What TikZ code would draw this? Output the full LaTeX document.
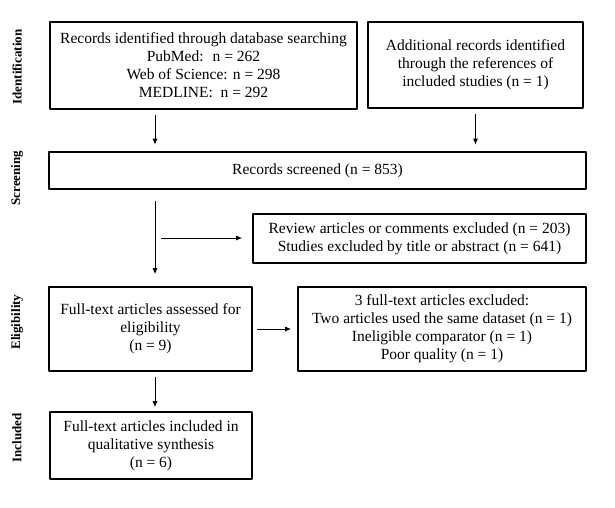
\documentclass[tikz,border=0pt]{standalone}
\usepackage{fontspec}
\setmainfont{Liberation Serif}
\usetikzlibrary{arrows.meta}
\tikzset{
  box/.style={draw=black,line width=1.6pt,inner sep=0pt,align=center,
    font=\fontsize{15.5}{18}\selectfont},
  stage/.style={rotate=90,inner sep=0pt,font=\bfseries\fontsize{13}{15}\selectfont},
}
\begin{document}
\begin{tikzpicture}[x=1pt,y=-1pt,>={Latex[length=6pt,width=5pt]},line join=bevel,]
\useasboundingbox (0,0) rectangle (615,507);
%%
 \node (stage_id) at (17,67) [stage] {Identification};
 \node (stage_scr) at (17,178) [stage] {Screening};
 \node (stage_elig) at (17,322) [stage] {Eligibility};
 \node (stage_inc) at (17,438) [stage] {Included};
%%
 \node (node_records) at (203.5,65.5) [box,minimum width=307pt,minimum height=87pt]
   {Records identified through database searching\\PubMed:~ n = 262\\Web of Science: n = 298\\MEDLINE:~ n = 292};
 \node (node_extra) at (475.5,65) [box,minimum width=215pt,minimum height=86pt]
   {Additional records identified\\through the references of\\included studies (n = 1)};
 \node (node_screened) at (317.5,170.5) [box,minimum width=537pt,minimum height=37pt]
   {Records screened (n = 853)};
 \node (node_excl) at (419.5,238.5) [box,minimum width=333pt,minimum height=49pt]
   {Review articles or comments excluded (n = 203)\\Studies excluded by title or abstract (n = 641)};
 \node (node_assessed) at (150.5,329) [box,minimum width=203pt,minimum height=84pt]
   {Full-text articles assessed for\\eligibility\\(n = 9)};
 \node (node_ftexcl) at (442,329) [box,minimum width=288pt,minimum height=84pt]
   {3 full-text articles excluded:\\Two articles used the same dataset (n = 1)\\Ineligible comparator (n = 1)\\Poor quality (n = 1)};
 \node (node_included) at (151,445.5) [box,minimum width=202pt,minimum height=67pt]
   {Full-text articles included in\\qualitative synthesis\\(n = 6)};
%
 \coordinate (main_x) at (155,0);
 \coordinate (side_start) at (161,238);

  \draw [black,line width=0.9pt,->,shorten <=5.5pt,shorten >=6.5pt] (node_records.south -| main_x) -- (node_screened.north -| main_x);
  \draw [black,line width=0.9pt,->,shorten <=5.5pt,shorten >=6.5pt] (node_extra.south) -- (node_extra.south |- node_screened.north);
  \draw [black,line width=0.9pt,->,shorten <=11pt,shorten >=12pt] (node_screened.south -| main_x) -- (node_assessed.north -| main_x);
  \draw [black,line width=0.9pt,->,shorten >=10pt] (side_start) -- (side_start -| node_excl.west);
  \draw [black,line width=0.9pt,->,shorten <=4pt,shorten >=6pt] (node_assessed.east) -- (node_ftexcl.west);
  \draw [black,line width=0.9pt,->,shorten <=5pt,shorten >=4pt] (node_assessed.south -| main_x) -- (node_included.north -| main_x);
%
\end{tikzpicture}
\end{document}
